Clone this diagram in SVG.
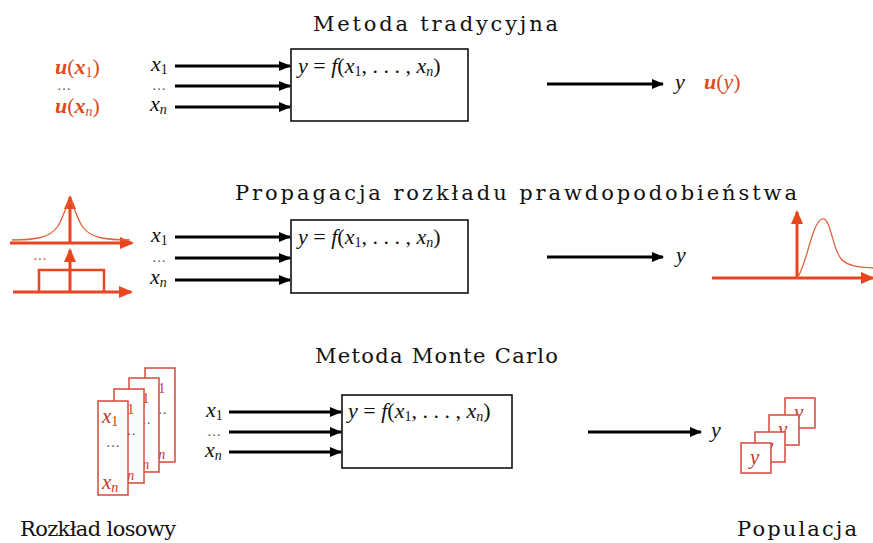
<svg xmlns="http://www.w3.org/2000/svg" width="873" height="543" viewBox="0 0 873 543">
<defs>
<marker id="ah" markerWidth="12" markerHeight="10" refX="11" refY="5" orient="auto" markerUnits="userSpaceOnUse">
<path d="M0,0 L12,5 L0,10 z" fill="#000"/>
</marker>
<marker id="rh" markerWidth="14" markerHeight="12" refX="12" refY="6" orient="auto" markerUnits="userSpaceOnUse">
<path d="M0,0 L14,6 L0,12 z" fill="#e8461e"/>
</marker>
</defs>
<rect width="873" height="543" fill="#fff"/>
<g id="titles" fill="#111">
<text font-family="DejaVu Serif" font-size="21" x="313" y="31" textLength="245" lengthAdjust="spacing">Metoda tradycyjna</text>
<text font-family="DejaVu Serif" font-size="21" x="235" y="200" textLength="562" lengthAdjust="spacing">Propagacja rozkładu  prawdopodobieństwa</text>
<text font-family="DejaVu Serif" font-size="21" x="315" y="363" textLength="243" lengthAdjust="spacing">Metoda Monte Carlo</text>
<text font-family="DejaVu Serif" font-size="21" x="20" y="536" textLength="156" lengthAdjust="spacing">Rozkład losowy</text>
<text font-family="DejaVu Serif" font-size="21" x="737" y="536" textLength="120" lengthAdjust="spacing">Populacja</text>
</g>
<g id="connectors" stroke="#000" stroke-width="3" marker-end="url(#ah)">
<line x1="175" y1="66" x2="290" y2="66"/>
<line x1="175" y1="86" x2="290" y2="86"/>
<line x1="175" y1="107" x2="290" y2="107"/>
<line x1="547" y1="84" x2="663" y2="84"/>
<line x1="175" y1="237" x2="290" y2="237"/>
<line x1="175" y1="258" x2="290" y2="258"/>
<line x1="175" y1="280" x2="290" y2="280"/>
<line x1="547" y1="257" x2="663" y2="257"/>
<line x1="229" y1="412" x2="341" y2="412"/>
<line x1="229" y1="432" x2="341" y2="432"/>
<line x1="229" y1="452" x2="341" y2="452"/>
<line x1="588" y1="432" x2="701" y2="432"/>
</g>
<g id="row1-uncertainties" fill="#e04a1c">
<text font-family="Liberation Serif" font-size="22" x="55" y="74"><tspan font-weight="bold" font-style="italic">u</tspan>(<tspan font-weight="bold" font-style="italic">x</tspan><tspan font-size="14" dy="3">1</tspan><tspan dy="-3">)</tspan></text>
<text font-family="Liberation Serif" font-size="14" fill="#555" x="57" y="90">…</text>
<text font-family="Liberation Serif" font-size="22" x="55" y="113"><tspan font-weight="bold" font-style="italic">u</tspan>(<tspan font-weight="bold" font-style="italic">x</tspan><tspan font-size="14" font-style="italic" dy="3">n</tspan><tspan dy="-3">)</tspan></text>
</g>
<g id="row1-inputs" fill="#111">
<text font-family="Liberation Serif" font-size="22" x="151" y="71"><tspan font-style="italic">x</tspan><tspan font-size="14" dy="3">1</tspan></text>
<text font-family="Liberation Serif" font-size="14" fill="#555" x="152" y="90">…</text>
<text font-family="Liberation Serif" font-size="22" font-style="italic" x="150" y="111">x<tspan font-size="14" dy="3">n</tspan></text>
</g>
<g id="row1-function" fill="#111">
<rect x="291" y="49" width="177" height="72" fill="#fff" stroke="#000" stroke-width="1.5"/>
<text font-family="Liberation Serif" font-size="22" x="298" y="73"><tspan font-style="italic">y</tspan> = <tspan font-style="italic">f</tspan>(<tspan font-style="italic">x</tspan><tspan font-size="14" dy="3">1</tspan><tspan dy="-3">, . . . , </tspan><tspan font-style="italic">x</tspan><tspan font-size="14" font-style="italic" dy="3">n</tspan><tspan dy="-3">)</tspan></text>
</g>
<g id="row1-output" fill="#111">
<text font-family="Liberation Serif" font-size="22" font-style="italic" x="675" y="89">y</text>
<text font-family="Liberation Serif" font-size="22" fill="#e04a1c" x="704" y="89"><tspan font-weight="bold" font-style="italic">u</tspan>(<tspan font-style="italic">y</tspan>)</text>
</g>
<g id="row2-distributions" stroke="#e8461e" stroke-width="3" fill="none">
<line x1="10" y1="243" x2="132" y2="243" marker-end="url(#rh)"/>
<line x1="70" y1="243" x2="70" y2="197" marker-end="url(#rh)"/>
<path stroke="#e0603a" stroke-width="1.3" d="M12,240 C35,240 50,238 58,226 C64,216 66,204 70,202 C74,204 76,216 82,226 C90,238 105,240 130,240"/>
<text font-family="Liberation Serif" font-size="14" fill="#e04a1c" stroke="none" x="33" y="260">…</text>
<line x1="13" y1="292" x2="131" y2="292" marker-end="url(#rh)"/>
<line x1="70" y1="292" x2="70" y2="250" marker-end="url(#rh)"/>
<polyline stroke-width="2.5" points="39,292 39,270 104,270 104,292"/>
</g>
<g id="row2-inputs" fill="#111">
<text font-family="Liberation Serif" font-size="22" x="151" y="242"><tspan font-style="italic">x</tspan><tspan font-size="14" dy="3">1</tspan></text>
<text font-family="Liberation Serif" font-size="14" fill="#555" x="152" y="262">…</text>
<text font-family="Liberation Serif" font-size="22" font-style="italic" x="150" y="284">x<tspan font-size="14" dy="3">n</tspan></text>
</g>
<g id="row2-function" fill="#111">
<rect x="291" y="220" width="177" height="73" fill="#fff" stroke="#000" stroke-width="1.5"/>
<text font-family="Liberation Serif" font-size="22" x="298" y="244"><tspan font-style="italic">y</tspan> = <tspan font-style="italic">f</tspan>(<tspan font-style="italic">x</tspan><tspan font-size="14" dy="3">1</tspan><tspan dy="-3">, . . . , </tspan><tspan font-style="italic">x</tspan><tspan font-size="14" font-style="italic" dy="3">n</tspan><tspan dy="-3">)</tspan></text>
</g>
<g id="row2-output">
<text font-family="Liberation Serif" font-size="22" font-style="italic" fill="#111" x="676" y="262">y</text>
<g stroke="#e8461e" stroke-width="3" fill="none">
<line x1="712" y1="278" x2="873" y2="278" marker-end="url(#rh)"/>
<line x1="797" y1="278" x2="797" y2="212" marker-end="url(#rh)"/>
<path stroke="#e0603a" stroke-width="1.3" d="M797,278 C806,268 812,222 822,219 C831,216 832,250 842,260 C850,267 860,267 873,268"/>
</g>
</g>
<g id="row3-samples">
<g transform="translate(145,368)">
<rect width="30" height="94" fill="#fff" stroke="#d9473a" stroke-width="1.5"/>
<text font-family="Liberation Serif" font-size="21" fill="#c0392b" x="4" y="22"><tspan font-style="italic">x</tspan><tspan font-size="14" dy="3">1</tspan></text>
<text font-family="Liberation Serif" font-size="14" fill="#555" x="8" y="46">…</text>
<text font-family="Liberation Serif" font-size="21" font-style="italic" fill="#c0392b" x="4" y="88">x<tspan font-size="14" dy="3">n</tspan></text>
</g>
<g transform="translate(129,378)">
<rect width="30" height="94" fill="#fff" stroke="#d9473a" stroke-width="1.5"/>
<text font-family="Liberation Serif" font-size="21" fill="#c0392b" x="4" y="22"><tspan font-style="italic">x</tspan><tspan font-size="14" dy="3">1</tspan></text>
<text font-family="Liberation Serif" font-size="14" fill="#555" x="8" y="46">…</text>
<text font-family="Liberation Serif" font-size="21" font-style="italic" fill="#c0392b" x="4" y="88">x<tspan font-size="14" dy="3">n</tspan></text>
</g>
<g transform="translate(114,389)">
<rect width="30" height="94" fill="#fff" stroke="#d9473a" stroke-width="1.5"/>
<text font-family="Liberation Serif" font-size="21" fill="#c0392b" x="4" y="22"><tspan font-style="italic">x</tspan><tspan font-size="14" dy="3">1</tspan></text>
<text font-family="Liberation Serif" font-size="14" fill="#555" x="8" y="46">…</text>
<text font-family="Liberation Serif" font-size="21" font-style="italic" fill="#c0392b" x="4" y="88">x<tspan font-size="14" dy="3">n</tspan></text>
</g>
<g transform="translate(98,401)">
<rect width="30" height="94" fill="#fff" stroke="#d9473a" stroke-width="1.5"/>
<text font-family="Liberation Serif" font-size="21" fill="#c0392b" x="4" y="22"><tspan font-style="italic">x</tspan><tspan font-size="14" dy="3">1</tspan></text>
<text font-family="Liberation Serif" font-size="14" fill="#555" x="8" y="46">…</text>
<text font-family="Liberation Serif" font-size="21" font-style="italic" fill="#c0392b" x="4" y="88">x<tspan font-size="14" dy="3">n</tspan></text>
</g>
</g>
<g id="row3-inputs" fill="#111">
<text font-family="Liberation Serif" font-size="22" x="206" y="417"><tspan font-style="italic">x</tspan><tspan font-size="14" dy="3">1</tspan></text>
<text font-family="Liberation Serif" font-size="14" fill="#555" x="207" y="436">…</text>
<text font-family="Liberation Serif" font-size="22" font-style="italic" x="205" y="457">x<tspan font-size="14" dy="3">n</tspan></text>
</g>
<g id="row3-function" fill="#111">
<rect x="342" y="395" width="170" height="73" fill="#fff" stroke="#000" stroke-width="1.5"/>
<text font-family="Liberation Serif" font-size="22" x="348" y="418"><tspan font-style="italic">y</tspan> = <tspan font-style="italic">f</tspan>(<tspan font-style="italic">x</tspan><tspan font-size="14" dy="3">1</tspan><tspan dy="-3">, . . . , </tspan><tspan font-style="italic">x</tspan><tspan font-size="14" font-style="italic" dy="3">n</tspan><tspan dy="-3">)</tspan></text>
</g>
<g id="row3-output">
<text font-family="Liberation Serif" font-size="22" font-style="italic" fill="#111" x="711" y="437">y</text>
<g transform="translate(785,398)"><rect width="30" height="30" fill="#fff" stroke="#d9473a" stroke-width="1.5"/><text font-family="Liberation Serif" font-size="21" font-style="italic" fill="#c0392b" x="9" y="21">y</text></g>
<g transform="translate(769,415)"><rect width="30" height="30" fill="#fff" stroke="#d9473a" stroke-width="1.5"/><text font-family="Liberation Serif" font-size="21" font-style="italic" fill="#c0392b" x="9" y="21">y</text></g>
<g transform="translate(755,432)"><rect width="30" height="30" fill="#fff" stroke="#d9473a" stroke-width="1.5"/><text font-family="Liberation Serif" font-size="21" font-style="italic" fill="#c0392b" x="9" y="21">y</text></g>
<g transform="translate(741,443)"><rect width="30" height="30" fill="#fff" stroke="#d9473a" stroke-width="1.5"/><text font-family="Liberation Serif" font-size="21" font-style="italic" fill="#c0392b" x="9" y="21">y</text></g>
</g>
</svg>
